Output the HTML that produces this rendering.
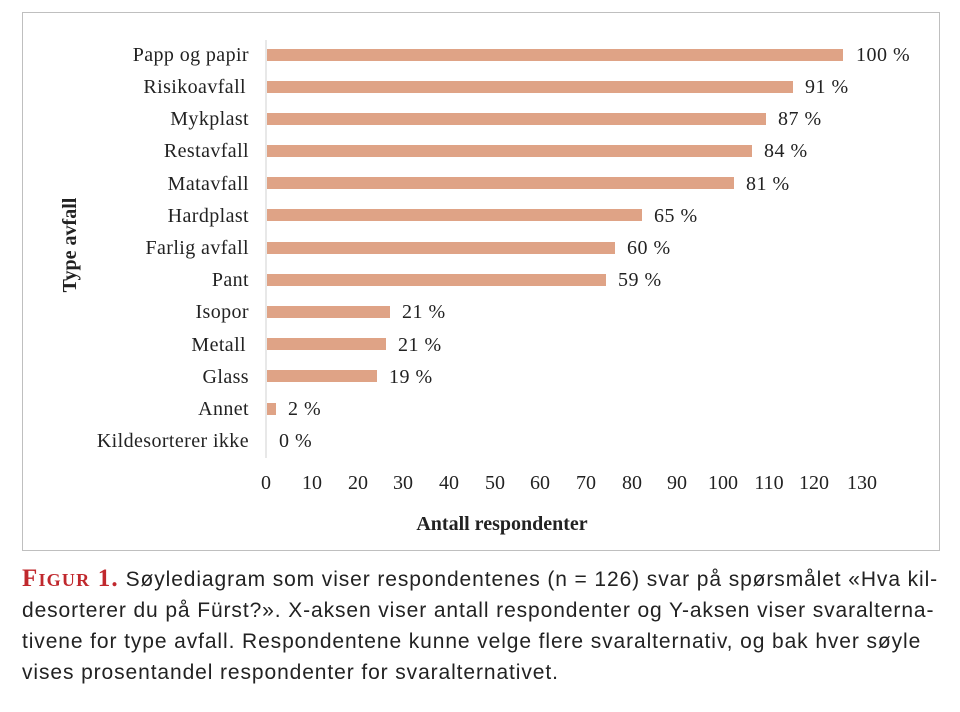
<!DOCTYPE html>
<html><head><meta charset="utf-8"><style>
body{margin:0;background:#fff;width:960px;height:712px;overflow:hidden}
.cap{position:absolute;left:22px;top:563px;width:940px;font-family:"Liberation Sans",sans-serif;font-size:21px;line-height:31px;color:#222;white-space:nowrap;letter-spacing:0.9px}
.fig{color:#c0282d;font-family:"Liberation Serif",serif;font-weight:bold;font-variant:small-caps;font-size:25px;letter-spacing:1.2px}
</style></head><body>
<svg width="960" height="712" style="position:absolute;left:0;top:0" font-family="Liberation Serif, serif">
<rect x="22.5" y="12.5" width="917" height="538" fill="#fff" stroke="#bfbfbf" stroke-width="1"/>
<line x1="266" y1="40" x2="266" y2="458" stroke="#d0d0d0" stroke-width="1"/>
<g font-size="20" fill="#222">
<g text-anchor="end" letter-spacing="0.4">
<text x="249" y="61">Papp og papir</text>
<text x="246" y="93">Risikoavfall</text>
<text x="249" y="125">Mykplast</text>
<text x="249" y="157">Restavfall</text>
<text x="249" y="190">Matavfall</text>
<text x="249" y="222">Hardplast</text>
<text x="249" y="254">Farlig avfall</text>
<text x="249" y="286">Pant</text>
<text x="249" y="318">Isopor</text>
<text x="246" y="351">Metall</text>
<text x="249" y="383">Glass</text>
<text x="249" y="415">Annet</text>
<text x="249" y="447">Kildesorterer ikke</text>
</g>
<g fill="#dfa386">
<rect x="267" y="49" width="576" height="12"/>
<rect x="267" y="81" width="526" height="12"/>
<rect x="267" y="113" width="499" height="12"/>
<rect x="267" y="145" width="485" height="12"/>
<rect x="267" y="177" width="467" height="12"/>
<rect x="267" y="209" width="375" height="12"/>
<rect x="267" y="242" width="348" height="12"/>
<rect x="267" y="274" width="339" height="12"/>
<rect x="267" y="306" width="123" height="12"/>
<rect x="267" y="338" width="119" height="12"/>
<rect x="267" y="370" width="110" height="12"/>
<rect x="267" y="403" width="9" height="12"/>
</g>
<g letter-spacing="0.5">
<text x="856" y="61">100 %</text>
<text x="805" y="93">91 %</text>
<text x="778" y="125">87 %</text>
<text x="764" y="157">84 %</text>
<text x="746" y="190">81 %</text>
<text x="654" y="222">65 %</text>
<text x="627" y="254">60 %</text>
<text x="618" y="286">59 %</text>
<text x="402" y="318">21 %</text>
<text x="398" y="351">21 %</text>
<text x="389" y="383">19 %</text>
<text x="288" y="415">2 %</text>
<text x="279" y="447">0 %</text>
</g>
<g text-anchor="middle">
<text x="266" y="489">0</text><text x="312" y="489">10</text><text x="358" y="489">20</text><text x="403" y="489">30</text><text x="449" y="489">40</text><text x="495" y="489">50</text><text x="540" y="489">60</text><text x="586" y="489">70</text><text x="632" y="489">80</text><text x="677" y="489">90</text><text x="723" y="489">100</text><text x="769" y="489">110</text><text x="814" y="489">120</text><text x="862" y="489">130</text>
<text x="502" y="530" font-weight="bold">Antall respondenter</text>
<text transform="translate(76,245) rotate(-90)" font-weight="bold">Type avfall</text>
</g>
</g>
</svg>
<div class="cap"><div><span class="fig">Figur 1.</span> Søylediagram som viser respondentenes (n = 126) svar på spørsmålet «Hva kil-</div><div>desorterer du på Fürst?». X-aksen viser antall respondenter og Y-aksen viser svaralterna-</div><div>tivene for type avfall. Respondentene kunne velge flere svaralternativ, og bak hver søyle</div><div>vises prosentandel respondenter for svaralternativet.</div></div>
</body></html>
